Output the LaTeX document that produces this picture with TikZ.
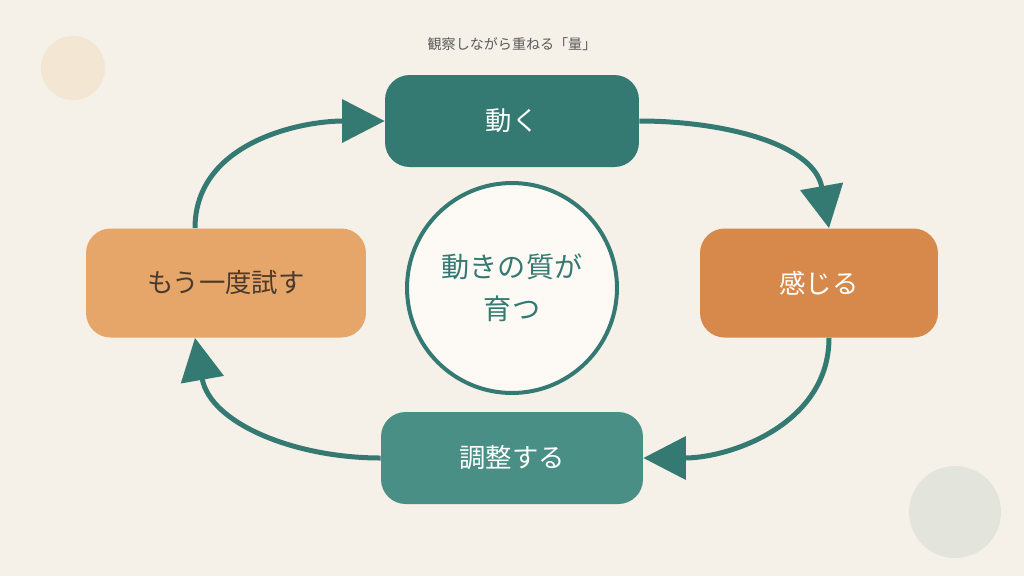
\documentclass[tikz,border=0pt]{standalone}
\usepackage{fontspec}
\usepackage{tikz}
\usetikzlibrary{arrows.meta,positioning}
\newfontfamily\cjk{Noto Sans CJK JP}
\definecolor{bgcol}{HTML}{F5F0E8}
\definecolor{tealdk}{HTML}{357A72}
\definecolor{tealmd}{HTML}{4A8F85}
\definecolor{orgdk}{HTML}{D6894A}
\definecolor{orglt}{HTML}{E6A66A}
\definecolor{txtdk}{HTML}{4A3A2E}
\definecolor{dotwarm}{HTML}{F3E6D3}
\definecolor{dotcool}{HTML}{E3E5DD}
\definecolor{corefill}{HTML}{FDFAF5}
\definecolor{titlecol}{HTML}{5A5A5A}

\begin{document}
\begin{tikzpicture}[x=0.02cm,y=-0.02cm,
    stage/.style={rounded corners=14pt, minimum height=1.84cm, text=white,
                 font={\cjk\fontsize{15}{18}\selectfont}},
    flow/.style={draw=tealdk, line width=0.1cm, -{Triangle[length=0.85cm,width=0.85cm]}}]
    \fill[bgcol] (0,0) rectangle (1024,576);
    \fill[dotwarm] (73,68) circle (32);
    \fill[dotcool] (955,512) circle (46);
    \node[font={\cjk\fontsize{8}{10}\selectfont}, text=titlecol] (title) at (512,44) {観察しながら重ねる「量」};
    \node[stage, fill=tealdk, minimum width=5.08cm] (move) at (512,121) {動く};
    \node[stage, fill=orgdk, minimum width=4.76cm, minimum height=2.18cm] (feel) at (819,283) {感じる};
    \node[stage, fill=tealmd, minimum width=5.24cm] (adjust) at (512,458) {調整する};
    \node[stage, fill=orglt, minimum width=5.6cm, minimum height=2.18cm, text=txtdk] (retry) at (226,283) {もう一度試す};
    \node[circle, draw=tealdk, line width=0.08cm, fill=corefill, minimum size=4.2cm,
          text=tealdk, align=center, font={\cjk\fontsize{16}{24}\selectfont}] (core) at (512,288) {動きの質が\\育つ};
    \draw[flow] (move.east) to[out=0, in=100] ([xshift=0.2cm]feel.north);
    \draw[flow] ([xshift=0.2cm]feel.south) to[out=-90, in=0] (adjust.east);
    \draw[flow] (adjust.west) to[out=180, in=-80] ([xshift=-0.62cm]retry.south);
    \draw[flow] ([xshift=-0.62cm]retry.north) to[out=90, in=180] (move.west);
\end{tikzpicture}
\end{document}
